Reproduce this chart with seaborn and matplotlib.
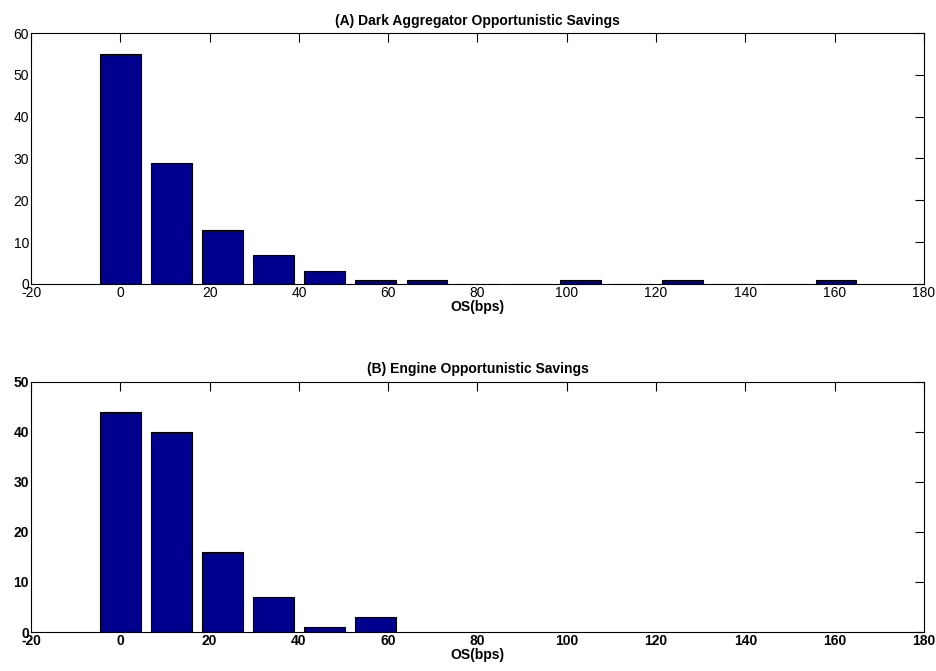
import matplotlib
matplotlib.use("Agg")
import matplotlib.pyplot as plt
import seaborn as sns
import pandas as pd

# Data (bin centres in bps, counts)
centers_a = [0.0, 11.45, 22.9, 34.35, 45.8, 57.25, 68.7, 80.15, 91.6,
             103.05, 114.5, 125.95, 137.4, 148.85, 160.3]
counts_a = [55, 29, 13, 7, 3, 1, 1, 0, 0, 1, 0, 1, 0, 0, 1]
centers_b = [0.0, 11.45, 22.9, 34.35, 45.8, 57.25]
counts_b = [44, 40, 16, 7, 1, 3]
title_a = "(A) Dark Aggregator Opportunistic Savings"
title_b = "(B) Engine Opportunistic Savings"
xlabel = "OS(bps)"
xticks = [-20, 0, 20, 40, 60, 80, 100, 120, 140, 160, 180]
yticks_a = [0, 10, 20, 30, 40, 50, 60]
yticks_b = [0, 10, 20, 30, 40, 50]

sns.set_style("white")
plt.rcParams['font.family'] = ['Liberation Sans', 'DejaVu Sans']
plt.rcParams['text.color'] = 'black'
plt.rcParams['axes.labelcolor'] = 'black'
plt.rcParams['xtick.color'] = 'black'
plt.rcParams['ytick.color'] = 'black'

fig = plt.figure(figsize=(9.37, 6.71), dpi=100)
ax1 = fig.add_axes([0.0331, 0.5768, 0.9530, 0.3740])
ax2 = fig.add_axes([0.0331, 0.0581, 0.9530, 0.3733])

bar_color = "#00008F"

def panel(ax, centers, counts, title, yticks, bold_ticks):
    df = pd.DataFrame({"x": centers, "y": counts})
    sns.barplot(data=df, x="x", y="y", native_scale=True, width=0.8,
                color=bar_color, saturation=1, edgecolor="black",
                linewidth=0.8, ax=ax, errorbar=None)
    ax.set_xlim(-20, 180)
    ax.set_ylim(yticks[0], yticks[-1])
    ax.set_xticks(xticks)
    ax.set_yticks(yticks)
    ax.set_xticklabels([str(t) for t in xticks])
    ax.set_yticklabels([str(t) for t in yticks])
    w = "bold" if bold_ticks else "normal"
    ax.tick_params(axis="both", direction="in", length=6.5, width=0.8,
                   top=True, right=True, labelsize=10, pad=1.5,
                   colors="black")
    for lab in ax.get_xticklabels() + ax.get_yticklabels():
        lab.set_fontweight(w)
    for s in ax.spines.values():
        s.set_visible(True)
        s.set_color("black")
        s.set_linewidth(0.8)
    ax.set_title(title, fontsize=10, fontweight="bold", pad=6, color="black")
    ax.set_xlabel(xlabel, fontsize=10, fontweight="bold", labelpad=0,
                  color="black")
    ax.set_ylabel("")

panel(ax1, centers_a, counts_a, title_a, yticks_a, False)
panel(ax2, centers_b, counts_b, title_b, yticks_b, True)

fig.savefig("out.png", dpi=100)
